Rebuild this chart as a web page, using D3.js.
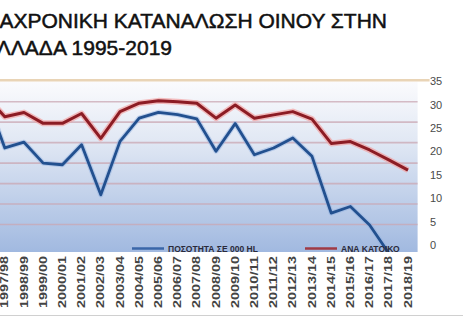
<!DOCTYPE html>
<html>
<head>
<meta charset="utf-8">
<script src="https://cdn.jsdelivr.net/npm/d3@7"></script>
<style>
  html, body { margin: 0; padding: 0; background: #fff; overflow: hidden; }
  svg { display: block; font-family: "Liberation Sans", Arial, sans-serif; }
</style>
</head>
<body>
<div id="chart"></div>
<script>
// Seasons (the first two fall outside the cropped view)
const seasons = ['1995/96', '1996/97', '1997/98', '1998/99', '1999/00', '2000/01', '2001/02', '2002/03',
  '2003/04', '2004/05', '2005/06', '2006/07', '2007/08', '2008/09', '2009/10', '2010/11',
  '2011/12', '2012/13', '2013/14', '2014/15', '2015/16', '2016/17', '2017/18', '2018/19'];

// Quantity in 000 hl (left axis, cropped off)
const quantity = [4000, 4150, 2870, 3010, 2500, 2460, 2950, 1725, 3030, 3600, 3740, 3685,
  3580, 2790, 3465, 2705, 2870, 3115, 2665, 1280, 1440, 990, 300, null];

// Litres per inhabitant (right axis)
const perCapita = [31, 32, 27.4, 28.3, 26.0, 26.0, 28.1, 22.8, 28.5, 30.3, 30.8, 30.6,
  30.3, 27.1, 29.9, 27.1, 27.8, 28.5, 26.9, 21.7, 22.1, 20.3, 18.2, 16.0];

const rightTicks = [0, 5, 10, 15, 20, 25, 30, 35];
const leftTicks = [500, 1000, 1500, 2000, 2500, 3000, 3500, 4000, 4500];

const titleLines = ['ΔΙΑΧΡΟΝΙΚΗ ΚΑΤΑΝΑΛΩΣΗ ΟΙΝΟΥ ΣΤΗΝ', 'ΕΛΛΑΔΑ 1995-2019'];
const seriesNames = ['ΠΟΣΟΤΗΤΑ ΣΕ 000 HL', 'ΑΝΑ ΚΑΤΟΙΚΟ'];

const W = 463, H = 318;
const plot = { left: -43.2, right: 417.6, top: 81.2, bottom: 245, bgBottom: 252 };

const svg = d3.select('#chart').append('svg')
  .attr('width', W)
  .attr('height', H);

// Title (left part cut off, as in the source)
svg.selectAll('.title')
  .data(titleLines)
  .enter()
  .append('text')
  .attr('x', (d, i) => i === 0 ? 387 : 172)
  .attr('y', (d, i) => 28 + i * 27)
  .attr('text-anchor', 'end')
  .style('font-size', '21px')
  .style('fill', '#111')
  .style('stroke', '#111')
  .style('stroke-width', 0.5)
  .text(d => d);

// Background gradient
const defs = svg.append('defs');
const grad = defs.append('linearGradient')
  .attr('id', 'bg')
  .attr('x1', 0).attr('y1', 0).attr('x2', 0).attr('y2', 1);
grad.append('stop').attr('offset', '0%').attr('stop-color', '#fbfbfd');
grad.append('stop').attr('offset', '35%').attr('stop-color', '#e1e8f4');
grad.append('stop').attr('offset', '100%').attr('stop-color', '#a1b9e0');

defs.append('clipPath').attr('id', 'clip')
  .append('rect')
  .attr('x', plot.left).attr('y', plot.top - 2)
  .attr('width', plot.right - plot.left)
  .attr('height', plot.bgBottom - plot.top + 2);

svg.append('rect')
  .attr('x', plot.left)
  .attr('y', plot.top)
  .attr('width', plot.right - plot.left)
  .attr('height', plot.bgBottom - plot.top)
  .attr('fill', 'url(#bg)');

// Scales
const x = d3.scaleBand()
  .domain(seasons)
  .range([plot.left, plot.right]);

const yRight = d3.scaleLinear()
  .domain([0, 35])
  .range([plot.bottom, plot.top]);

const yLeft = d3.scaleLinear()
  .domain([500, 4500])
  .range([plot.bottom, plot.top]);

const cx = d => x(d) + x.bandwidth() / 2;

// Gridlines (from the hidden left axis)
svg.append('g')
  .selectAll('line')
  .data(leftTicks.slice(1, -1))
  .enter()
  .append('line')
  .attr('x1', plot.left).attr('x2', plot.right)
  .attr('y1', d => yLeft(d)).attr('y2', d => yLeft(d))
  .attr('stroke', '#c9a7b3')
  .attr('stroke-opacity', 0.75)
  .attr('stroke-width', 1.6);

// Top border line
svg.append('line')
  .attr('x1', 0).attr('x2', plot.right + 12)
  .attr('y1', yLeft(4500) - 1).attr('y2', yLeft(4500) - 1)
  .attr('stroke', '#e9d4b6')
  .attr('stroke-width', 2.5);

// Right axis
const axisR = svg.append('g')
  .attr('transform', 'translate(430,0)')
  .call(d3.axisRight(yRight).tickValues(rightTicks).tickSize(0).tickPadding(0));
axisR.select('.domain').remove();
axisR.selectAll('text')
  .style('font-size', '11px')
  .style('font-family', '"Liberation Sans", Arial, sans-serif')
  .style('fill', '#4a4a4a');

// X labels (rotated)
svg.append('g')
  .selectAll('text')
  .data(seasons)
  .enter()
  .append('text')
  .attr('transform', d => `translate(${cx(d)},256) rotate(-90)`)
  .attr('text-anchor', 'end')
  .attr('dy', '0.35em')
  .attr('textLength', 52)
  .attr('lengthAdjust', 'spacingAndGlyphs')
  .style('font-size', '10px')
  .style('font-weight', 'bold')
  .style('fill', '#444')
  .text(d => d);

// Lines
const lineLayer = svg.append('g').attr('clip-path', 'url(#clip)');

const blueLine = d3.line()
  .defined(d => d.v !== null)
  .x(d => cx(d.s))
  .y(d => yLeft(d.v));

const redLine = d3.line()
  .x(d => cx(d.s))
  .y(d => yRight(d.v));

const blueData = seasons.map((s, i) => ({ s, v: quantity[i] }));
const redData = seasons.map((s, i) => ({ s, v: perCapita[i] }));

lineLayer.append('path')
  .datum(blueData)
  .attr('d', blueLine)
  .attr('fill', 'none')
  .attr('stroke', '#8fb0e0')
  .attr('stroke-width', 5)
  .attr('stroke-opacity', 0.5)
  .attr('stroke-linejoin', 'round');

lineLayer.append('path')
  .datum(blueData)
  .attr('d', blueLine)
  .attr('fill', 'none')
  .attr('stroke', '#22508f')
  .attr('stroke-width', 2.8)
  .attr('stroke-linejoin', 'round');

lineLayer.append('path')
  .datum(redData)
  .attr('d', redLine)
  .attr('fill', 'none')
  .attr('stroke', '#f2a3a3')
  .attr('stroke-width', 6)
  .attr('stroke-opacity', 0.7)
  .attr('stroke-linejoin', 'round');

lineLayer.append('path')
  .datum(redData)
  .attr('d', redLine)
  .attr('fill', 'none')
  .attr('stroke', '#8c1c24')
  .attr('stroke-width', 3)
  .attr('stroke-linejoin', 'round');

// Legend (inside the plot, bottom)
const legendItems = [
  { name: seriesNames[0], color: '#3a66a8', x: 132 },
  { name: seriesNames[1], color: '#a03a44', x: 305 }
];
const legend = svg.append('g');
legend.selectAll('line')
  .data(legendItems)
  .enter()
  .append('line')
  .attr('x1', d => d.x).attr('x2', d => d.x + 32)
  .attr('y1', 248.5).attr('y2', 248.5)
  .attr('stroke', d => d.color)
  .attr('stroke-width', 2.5);
legend.selectAll('text')
  .data(legendItems)
  .enter()
  .append('text')
  .attr('x', d => d.x + 36)
  .attr('y', 251.5)
  .style('font-size', '8.5px')
  .style('font-weight', 'bold')
  .style('fill', '#2a2a3a')
  .text(d => d.name);

// Bottom frame line
svg.append('line')
  .attr('x1', 0).attr('x2', W)
  .attr('y1', 315.5).attr('y2', 315.5)
  .attr('stroke', '#d0d0d0')
  .attr('stroke-width', 1);
</script>
</body>
</html>
